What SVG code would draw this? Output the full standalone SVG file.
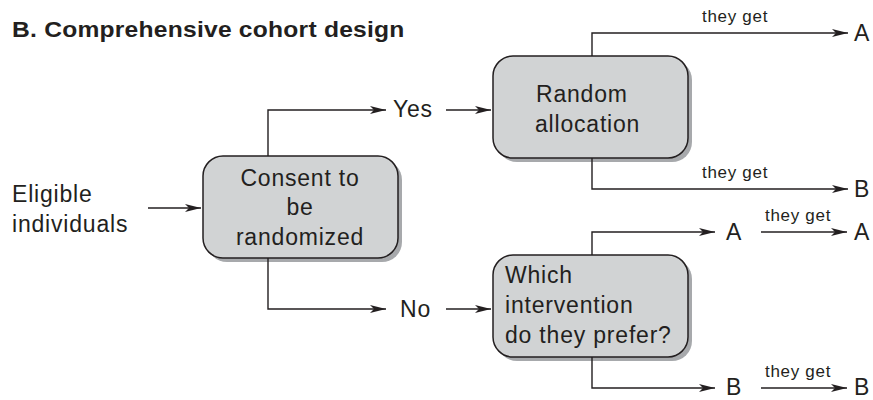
<svg xmlns="http://www.w3.org/2000/svg" width="873" height="400" viewBox="0 0 873 400">
  <style>
    .t { font-family: "Liberation Sans", Arial, sans-serif; fill: #231f20; }
    .title { font-size: 22px; font-weight: bold; letter-spacing: 0.2px; }
    .lbl { font-size: 23px; letter-spacing: 0.8px; }
    .small { font-size: 17px; letter-spacing: 0.7px; }
    .box { fill: #d1d3d4; stroke: #231f20; stroke-width: 1.5; }
    .shadow { fill: #a7a9ac; }
    .ln { fill: none; stroke: #231f20; stroke-width: 1.4; }
  </style>
  <defs>
    <marker id="arr" markerWidth="17" markerHeight="10" refX="16" refY="5" orient="auto" markerUnits="userSpaceOnUse">
      <path d="M0,1 L16,5 L0,9 L4,5 Z" fill="#231f20"/>
    </marker>
  </defs>
  <rect width="873" height="400" fill="#ffffff"/>

  <!-- heading, widened horizontally -->
  <text class="t title" transform="translate(12,37) scale(1.12,1)">B. Comprehensive cohort design</text>

  <g id="eligible">
    <text class="t lbl" x="12" y="202">Eligible</text>
    <text class="t lbl" x="12" y="232">individuals</text>
  </g>

  <g id="consent">
    <rect class="shadow" x="207" y="160" width="195" height="102" rx="20"/>
    <rect class="box" x="203" y="156" width="195" height="102" rx="20"/>
    <text class="t lbl" x="300" y="186" text-anchor="middle">Consent to</text>
    <text class="t lbl" x="300" y="215" text-anchor="middle">be</text>
    <text class="t lbl" x="300" y="245" text-anchor="middle">randomized</text>
  </g>

  <g id="yes"><text class="t lbl" x="393" y="117">Yes</text></g>
  <g id="no"><text class="t lbl" x="400" y="317">No</text></g>

  <g id="random">
    <rect class="shadow" x="497" y="60" width="195" height="102" rx="20"/>
    <rect class="box" x="493" y="56" width="195" height="102" rx="20"/>
    <text class="t lbl" x="536" y="102">Random</text>
    <text class="t lbl" x="535" y="132">allocation</text>
  </g>

  <g id="prefer">
    <rect class="shadow" x="497" y="259" width="195" height="102" rx="20"/>
    <rect class="box" x="493" y="255" width="195" height="102" rx="20"/>
    <text class="t lbl" x="505" y="283">Which</text>
    <text class="t lbl" x="505" y="313">intervention</text>
    <text class="t lbl" x="505" y="343">do they prefer?</text>
  </g>

  <g id="outcomes">
    <text class="t lbl" x="854" y="41">A</text>
    <text class="t lbl" x="854" y="197">B</text>
    <text class="t lbl" x="726" y="240">A</text>
    <text class="t lbl" x="854" y="240">A</text>
    <text class="t lbl" x="726" y="395">B</text>
    <text class="t lbl" x="854" y="395">B</text>
    <text class="t small" x="702" y="22">they get</text>
    <text class="t small" x="702" y="178">they get</text>
    <text class="t small" x="765" y="221">they get</text>
    <text class="t small" x="765" y="377">they get</text>
  </g>

  <g id="connectors">
    <line class="ln" x1="148" y1="208" x2="201" y2="208" marker-end="url(#arr)"/>
    <polyline class="ln" points="268,156 268,110 386,110" marker-end="url(#arr)"/>
    <polyline class="ln" points="268,258 268,309 386,309" marker-end="url(#arr)"/>
    <line class="ln" x1="446" y1="110" x2="491" y2="110" marker-end="url(#arr)"/>
    <line class="ln" x1="446" y1="309" x2="491" y2="309" marker-end="url(#arr)"/>
    <polyline class="ln" points="592,56 592,33 848,33" marker-end="url(#arr)"/>
    <polyline class="ln" points="592,158 592,189 848,189" marker-end="url(#arr)"/>
    <polyline class="ln" points="592,255 592,232 715,232" marker-end="url(#arr)"/>
    <polyline class="ln" points="592,357 592,388 715,388" marker-end="url(#arr)"/>
    <line class="ln" x1="761" y1="232" x2="847" y2="232" marker-end="url(#arr)"/>
    <line class="ln" x1="761" y1="388" x2="847" y2="388" marker-end="url(#arr)"/>
  </g>
</svg>
